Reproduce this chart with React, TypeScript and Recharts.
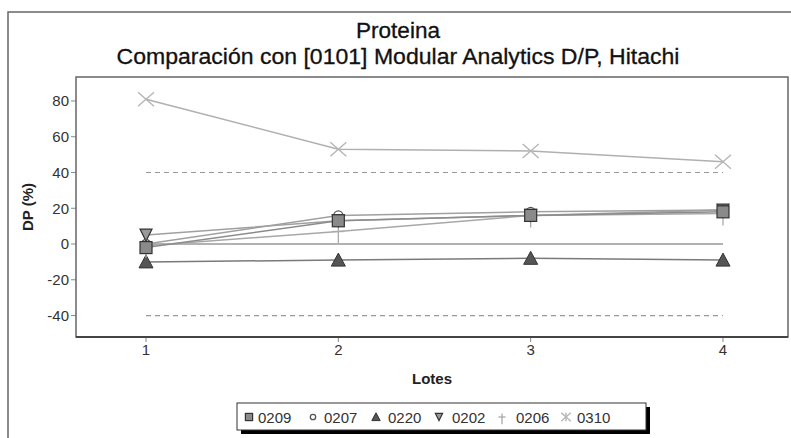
import React from "react";
import { ComposedChart, Line, XAxis, YAxis, ReferenceLine } from "recharts";

const lotes = [1, 2, 3, 4];
const s0209 = [-2, 13, 16, 18];
const s0207 = [0, 16, 18, 19];
const s0220 = [-10, -9, -8, -9];
const s0202 = [5, 13, 16, 19];
const s0206 = [-1, 7, 16, 17];
const s0310 = [81, 53, 52, 46];
const yTicks = [-40, -20, 0, 20, 40, 60, 80];
const limits = [40, -40];
const title1 = "Proteina";
const title2 = "Comparación con [0101] Modular Analytics D/P, Hitachi";
const legendNames = ["0209", "0207", "0220", "0202", "0206", "0310"];

const data = lotes.map((l, i) => ({
  lote: l,
  s0209: s0209[i],
  s0207: s0207[i],
  s0220: s0220[i],
  s0202: s0202[i],
  s0206: s0206[i],
  s0310: s0310[i],
}));

type Kind = "square" | "circle" | "tri" | "dtri" | "plus" | "x";

function Marker({ kind, cx, cy, legend }: { kind: Kind; cx: number; cy: number; legend?: boolean }) {
  const s = legend ? 0.6 : 1;
  switch (kind) {
    case "square":
      return <rect x={cx - 6 * s} y={cy - 6 * s} width={12 * s} height={12 * s} fill="#8a8a8a" stroke="#333" strokeWidth={1.2} />;
    case "circle":
      return <circle cx={cx} cy={cy} r={4.5 * s} fill="none" stroke="#555" strokeWidth={1.3} />;
    case "tri":
      return <polygon points={`${cx},${cy - 7 * s} ${cx + 7 * s},${cy + 6 * s} ${cx - 7 * s},${cy + 6 * s}`} fill="#555" stroke="#333" strokeWidth={1} />;
    case "dtri":
      return <polygon points={`${cx - 6 * s},${cy - 6 * s} ${cx + 6 * s},${cy - 6 * s} ${cx},${cy + 6 * s}`} fill="#9a9a9a" stroke="#333" strokeWidth={1.2} />;
    case "plus":
      return (
        <g stroke="#aaa" strokeWidth={1.3}>
          <line x1={cx - 6 * s} y1={cy} x2={cx + 6 * s} y2={cy} />
          <line x1={cx} y1={cy - 6 * s} x2={cx} y2={cy + 12 * s} />
        </g>
      );
    case "x":
    default:
      return (
        <g stroke="#b5b5b5" strokeWidth={1.4}>
          <line x1={cx - 8 * s} y1={cy - 7 * s} x2={cx + 8 * s} y2={cy + 7 * s} />
          <line x1={cx - 8 * s} y1={cy + 7 * s} x2={cx + 8 * s} y2={cy - 7 * s} />
          {legend ? <line x1={cx} y1={cy - 7 * s} x2={cx} y2={cy + 7 * s} /> : null}
        </g>
      );
  }
}

const dotFor = (kind: Kind) => (props: any) => {
  const { cx, cy, index } = props;
  return (
    <g key={`${kind}-${index}`}>
      <Marker kind={kind} cx={cx} cy={cy} />
    </g>
  );
};

const series: { key: string; kind: Kind; stroke: string }[] = [
  { key: "s0310", kind: "x", stroke: "#b0b0b0" },
  { key: "s0220", kind: "tri", stroke: "#7a7a7a" },
  { key: "s0206", kind: "plus", stroke: "#a8a8a8" },
  { key: "s0202", kind: "dtri", stroke: "#a0a0a0" },
  { key: "s0207", kind: "circle", stroke: "#a0a0a0" },
  { key: "s0209", kind: "square", stroke: "#8c8c8c" },
];

const legendKinds: Kind[] = ["square", "circle", "tri", "dtri", "plus", "x"];
const legendMarkerX = [249, 313, 376, 439, 502, 566];
const legendTextX = [258, 324, 388, 452, 516, 577];

export default function App() {
  return (
    <div style={{ position: "absolute", left: 0, top: 0, width: 791, height: 438, background: "#fff", overflow: "hidden" }}>
      <ComposedChart
        width={791}
        height={438}
        data={data}
        margin={{ top: 77, right: 3, left: 0, bottom: 71 }}
      >
        <XAxis
          dataKey="lote"
          type="number"
          domain={[0.636, 4.338]}
          ticks={lotes}
          allowDataOverflow
          axisLine={false}
          tickLine={{ stroke: "#888" }}
          tickSize={5}
          height={30}
          tick={{ fill: "#333", fontSize: 15, fontFamily: "Liberation Sans, Arial, sans-serif" }}
        />
        <YAxis
          type="number"
          domain={[-52, 93.4]}
          ticks={yTicks}
          allowDataOverflow
          axisLine={false}
          tickLine={{ stroke: "#888" }}
          tickSize={5}
          width={76}
          tick={{ fill: "#333", fontSize: 15, fontFamily: "Liberation Sans, Arial, sans-serif" }}
        />
        {limits.map((v) => (
          <ReferenceLine
            key={`lim${v}`}
            segment={[{ x: 1, y: v }, { x: 4, y: v }]}
            stroke="#999"
            strokeDasharray="5 4"
            strokeWidth={1.2}
          />
        ))}
        <ReferenceLine segment={[{ x: 1, y: 0 }, { x: 4, y: 0 }]} stroke="#999" strokeWidth={1.5} />
        {series.map((s) => (
          <Line
            key={s.key}
            dataKey={s.key}
            type="linear"
            stroke={s.stroke}
            strokeWidth={1.5}
            dot={dotFor(s.kind)}
            activeDot={false}
            isAnimationActive={false}
          />
        ))}
      </ComposedChart>
      <svg
        width={791}
        height={438}
        style={{ position: "absolute", left: 0, top: 0, pointerEvents: "none" }}
      >
        <rect x={8} y={12} width={900} height={600} fill="none" stroke="#666" strokeWidth={1.5} />
        <rect x={76} y={77} width={712} height={260} fill="none" stroke="#666" strokeWidth={1.5} />
        <line x1={76} y1={337} x2={788} y2={337} stroke="#444" strokeWidth={2} />
        <text
          x={398}
          y={38}
          textAnchor="middle"
          fontSize={22}
          fill="#111"
          stroke="#111"
          strokeWidth={0.3}
          textLength={84}
          lengthAdjust="spacingAndGlyphs"
          fontFamily="Liberation Sans Narrow, Arial Narrow, Liberation Sans, sans-serif"
        >
          {title1}
        </text>
        <text
          x={398}
          y={64}
          textAnchor="middle"
          fontSize={22}
          fill="#111"
          stroke="#111"
          strokeWidth={0.3}
          textLength={563}
          lengthAdjust="spacingAndGlyphs"
          fontFamily="Liberation Sans Narrow, Arial Narrow, Liberation Sans, sans-serif"
        >
          {title2}
        </text>
        <text
          x={0}
          y={0}
          transform="translate(33,207) rotate(-90)"
          textAnchor="middle"
          fontSize={15}
          fontWeight="bold"
          fill="#222"
          fontFamily="Liberation Sans, Arial, sans-serif"
        >
          DP (%)
        </text>
        <text
          x={432}
          y={384}
          textAnchor="middle"
          fontSize={15}
          fontWeight="bold"
          fill="#222"
          fontFamily="Liberation Sans, Arial, sans-serif"
        >
          Lotes
        </text>
        <rect x={241} y={407} width={409} height={27} fill="#000" />
        <rect x={237} y={403} width={409} height={27} fill="#fff" stroke="#333" strokeWidth={1} />
        {legendNames.map((n, i) => (
          <g key={n}>
            <Marker kind={legendKinds[i]} cx={legendMarkerX[i]} cy={417} legend />
            <text
              x={legendTextX[i]}
              y={423}
              fontSize={15}
              fill="#333"
              fontFamily="Liberation Sans, Arial, sans-serif"
            >
              {n}
            </text>
          </g>
        ))}
      </svg>
    </div>
  );
}
